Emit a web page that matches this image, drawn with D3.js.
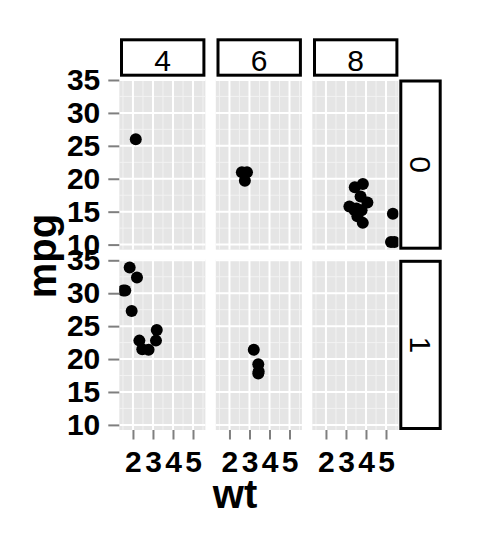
<!DOCTYPE html>
<html>
<head>
<meta charset="utf-8">
<script src="https://cdn.jsdelivr.net/npm/d3@7"></script>
<style>
  body { margin: 0; background: #fff; }
  svg { display: block; font-family: "Liberation Sans", Arial, Helvetica, sans-serif; }
</style>
</head>
<body>
<div id="chart"></div>
<script>
// mtcars: mpg vs wt, faceted by vs (rows) and cyl (columns)
const CYL_LEVELS = [4, 6, 8];
const VS_LEVELS  = [0, 1];

const WT  = [2.14, 2.32, 3.19, 3.15, 2.2, 1.615, 1.835, 2.465, 1.935, 1.513, 2.78,
             2.62, 2.875, 2.77, 3.215, 3.46, 3.44, 3.44,
             3.44, 3.57, 4.07, 3.73, 3.78, 5.25, 5.424, 5.345, 3.52, 3.435, 3.84, 3.845, 3.17, 3.57];
const MPG = [26.0, 22.8, 24.4, 22.8, 32.4, 30.4, 33.9, 21.5, 27.3, 30.4, 21.4,
             21.0, 21.0, 19.7, 21.4, 18.1, 19.2, 17.8,
             18.7, 14.3, 16.4, 17.3, 15.2, 10.4, 10.4, 14.7, 15.5, 15.2, 13.3, 19.2, 15.8, 15.0];
const CYL = [4, 4, 4, 4, 4, 4, 4, 4, 4, 4, 4,
             6, 6, 6, 6, 6, 6, 6,
             8, 8, 8, 8, 8, 8, 8, 8, 8, 8, 8, 8, 8, 8];
const VS  = [0, 1, 1, 1, 1, 1, 1, 1, 1, 1, 1,
             0, 0, 0, 1, 1, 1, 1,
             0, 0, 0, 0, 0, 0, 0, 0, 0, 0, 0, 0, 0, 0];

const X_TICKS = [2, 3, 4, 5];
const X_MINOR = [1.5, 2.5, 3.5, 4.5, 5.5];
const Y_TICKS = [10, 15, 20, 25, 30, 35];
const Y_MINOR = [12.5, 17.5, 22.5, 27.5, 32.5];

const rows = WT.map((w, i) => ({ wt: w, mpg: MPG[i], cyl: CYL[i], vs: VS[i] }));

// layout of the facet grid
const COL_X = [119.3, 215.8, 312.3], PW = 86.1;
const ROW_Y = [79.5, 259.8],         PH = 170.2;

const svg = d3.select("#chart").append("svg").attr("width", 480).attr("height", 537);

// ggplot style 5% expansion
const wtExt = d3.extent(WT), mpgExt = d3.extent(MPG);
const wtPad = (wtExt[1] - wtExt[0]) * 0.05, mpgPad = (mpgExt[1] - mpgExt[0]) * 0.05;
const x = d3.scaleLinear().domain([wtExt[0] - wtPad, wtExt[1] + wtPad]).range([0, PW]);
const y = d3.scaleLinear().domain([mpgExt[0] - mpgPad, mpgExt[1] + mpgPad]).range([PH, 0]);

function styleAxis(ax) {
  ax.select(".domain").remove();
  ax.selectAll("line").attr("stroke", "#7f7f7f").attr("stroke-width", 2);
  ax.selectAll("text").style("font-size", "30px").style("font-weight", "bold").attr("fill", "#000");
}

VS_LEVELS.forEach((vs, r) => {
  CYL_LEVELS.forEach((cyl, c) => {
    const g = svg.append("g").attr("transform", `translate(${COL_X[c]},${ROW_Y[r]})`);
    const clipId = `clip-${r}-${c}`;
    g.append("clipPath").attr("id", clipId).append("rect").attr("width", PW).attr("height", PH);

    g.append("rect").attr("width", PW).attr("height", PH).attr("fill", "#e5e5e5");

    // minor grid then major grid
    g.selectAll(null).data(X_MINOR.filter(v => x(v) > 0 && x(v) < PW)).enter().append("line")
      .attr("x1", d => x(d)).attr("x2", d => x(d)).attr("y1", 0).attr("y2", PH)
      .attr("stroke", "#f2f2f2").attr("stroke-width", 1);
    g.selectAll(null).data(Y_MINOR).enter().append("line")
      .attr("x1", 0).attr("x2", PW).attr("y1", d => y(d)).attr("y2", d => y(d))
      .attr("stroke", "#f2f2f2").attr("stroke-width", 1);
    g.selectAll(null).data(X_TICKS).enter().append("line")
      .attr("x1", d => x(d)).attr("x2", d => x(d)).attr("y1", 0).attr("y2", PH)
      .attr("stroke", "#fff").attr("stroke-width", 2);
    g.selectAll(null).data(Y_TICKS).enter().append("line")
      .attr("x1", 0).attr("x2", PW).attr("y1", d => y(d)).attr("y2", d => y(d))
      .attr("stroke", "#fff").attr("stroke-width", 2);

    const pts = rows.filter(d => d.cyl === cyl && d.vs === vs);
    g.append("g").attr("clip-path", `url(#${clipId})`)
      .selectAll("circle").data(pts).enter().append("circle")
      .attr("cx", d => x(d.wt)).attr("cy", d => y(d.mpg)).attr("r", 6).attr("fill", "#000");

    // y axis on first column only
    if (c === 0) {
      g.append("g").call(d3.axisLeft(y).tickValues(Y_TICKS).tickFormat(d3.format("d"))
        .tickSize(11).tickPadding(8)).call(styleAxis);
    }
    // x axis on bottom row only
    if (r === VS_LEVELS.length - 1) {
      g.append("g").attr("transform", `translate(0,${PH})`)
        .call(d3.axisBottom(x).tickValues(X_TICKS).tickFormat(d3.format("d"))
          .tickSize(9.5).tickPadding(11)).call(styleAxis);
    }
  });
});

// top strips (cyl)
CYL_LEVELS.forEach((cyl, c) => {
  const x0 = COL_X[c] + 0.7, w = PW - 0.7, y0 = 38.3, h = 38.4;
  svg.append("rect").attr("x", x0 + 1.5).attr("y", y0 + 1.5).attr("width", w - 3).attr("height", h - 3)
    .attr("fill", "#fff").attr("stroke", "#000").attr("stroke-width", 3);
  svg.append("text").attr("x", x0 + w / 2).attr("y", 71).attr("text-anchor", "middle")
    .style("font-size", "30px").text(cyl);
});

// right strips (vs)
VS_LEVELS.forEach((vs, r) => {
  const x0 = 399.3, w = 42.4, y0 = ROW_Y[r], h = PH;
  svg.append("rect").attr("x", x0 + 1.5).attr("y", y0 + 1.5).attr("width", w - 3).attr("height", h - 3)
    .attr("fill", "#fff").attr("stroke", "#000").attr("stroke-width", 3);
  svg.append("text").attr("transform", `translate(${x0 + w / 2 - 10.5},${y0 + h / 2}) rotate(90)`)
    .attr("text-anchor", "middle").style("font-size", "30px").text(vs);
});

// axis titles
svg.append("text").attr("x", 235).attr("y", 508).attr("text-anchor", "middle")
  .style("font-size", "40px").style("font-weight", "bold").text("wt");
svg.append("text").attr("transform", "translate(56,256) rotate(-90)").attr("text-anchor", "middle")
  .style("font-size", "40px").style("font-weight", "bold").text("mpg");
</script>
</body>
</html>
